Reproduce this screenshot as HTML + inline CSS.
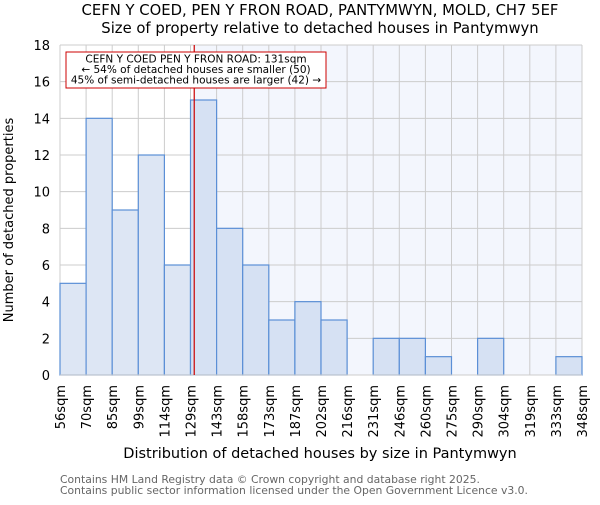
<!DOCTYPE html>
<html><head><meta charset="utf-8"><style>
body{margin:0;background:#fff}
svg{font-family:"DejaVu Sans","Liberation Sans",sans-serif}
</style></head><body>
<svg id="c" width="600" height="500">
<text x="320" y="15" text-anchor="middle" font-size="14.8">CEFN Y COED, PEN Y FRON ROAD, PANTYMWYN, MOLD, CH7 5EF</text>
<text x="320" y="33" text-anchor="middle" font-size="14.8">Size of property relative to detached houses in Pantymwyn</text>
<g id="plot"></g>
<text x="320" y="458" text-anchor="middle" font-size="14.5">Distribution of detached houses by size in Pantymwyn</text>
<text transform="translate(13,220) rotate(-90)" text-anchor="middle" font-size="13">Number of detached properties</text>
<text x="60" y="483" font-size="10.8" fill="#666">Contains HM Land Registry data © Crown copyright and database right 2025.</text>
<text x="60" y="494" font-size="10.8" fill="#666">Contains public sector information licensed under the Open Government Licence v3.0.</text>
</svg>
<script>
const binLabels=["56sqm","70sqm","85sqm","99sqm","114sqm","129sqm","143sqm","158sqm","173sqm","187sqm","202sqm","216sqm","231sqm","246sqm","260sqm","275sqm","290sqm","304sqm","319sqm","333sqm","348sqm"];
const counts=[5,14,9,12,6,15,8,6,3,4,3,0,2,2,1,0,2,0,0,1];
const yTicks=[0,2,4,6,8,10,12,14,16,18];
const propertySize=131;
const binEdges=[56,70,85,99,114,129,143,158,173,187,202,216,231,246,260,275,290,304,319,333,348];
const NS="http://www.w3.org/2000/svg";
const g=document.getElementById('plot');
const x0=60,x1=582,y0=375,y1=45,ymax=18;
const n=counts.length,bw=(x1-x0)/n;
const xi=i=>x0+i*bw;
const y=v=>y0-(v/ymax)*(y0-y1);
function sizeX(s){for(let i=0;i<binEdges.length-1;i++){if(s<=binEdges[i+1])return xi(i)+(s-binEdges[i])/(binEdges[i+1]-binEdges[i])*bw;}return x1;}
function mk(t,a,p){const e=document.createElementNS(NS,t);for(const k in a)e.setAttribute(k,a[k]);(p||g).appendChild(e);return e;}
const rx=sizeX(propertySize);
let bg=mk('rect',{x:rx,y:y1,width:x1-rx,height:y0-y1,fill:'#f3f6fd'});


yTicks.forEach(t=>{
 let l=mk('line',{x1:x0,x2:x1,y1:y(t),y2:y(t),stroke:'#cccccc'});
 
 
 let tx=mk('text',{x:x0-10,y:y(t)+5,'text-anchor':'end','font-size':'13'});
 tx.textContent=t;
 
 
});
binLabels.forEach((lb,i)=>{
 let l=mk('line',{x1:xi(i),x2:xi(i),y1:y1,y2:y0,stroke:'#cccccc'});
 
 
 let tx=mk('text',{transform:`translate(${xi(i)+5},${y0+10}) rotate(-90)`,'text-anchor':'end','font-size':'13'});
 tx.textContent=lb;
 
 
});
counts.forEach((c,i)=>{
 if(c<=0)return;
 let r=mk('rect',{x:xi(i),y:y(c),width:bw,height:y0-y(c),fill:xi(i)>=rx-5?'#d6e1f3':'#dde6f4',stroke:'#5b8fd6','stroke-width':1.2});
 
 
});
let ax=mk('line',{x1:x0,x2:x1,y1:y0,y2:y0,stroke:'#cccccc'});
let rl=mk('line',{x1:rx,x2:rx,y1:y1,y2:y0,stroke:'#cc0000','stroke-width':1.2});


let box=mk('rect',{x:66,y:52,width:260,height:36,fill:'#fff',stroke:'#cc0000','stroke-width':1});


["CEFN Y COED PEN Y FRON ROAD: 131sqm","← 54% of detached houses are smaller (50)","45% of semi-detached houses are larger (42) →"].forEach((s,k)=>{
 let t=mk('text',{x:196,y:62.5+k*10.5,'text-anchor':'middle','font-size':'10.5'});
 t.textContent=s;
 
 
});
</script>
</body></html>
